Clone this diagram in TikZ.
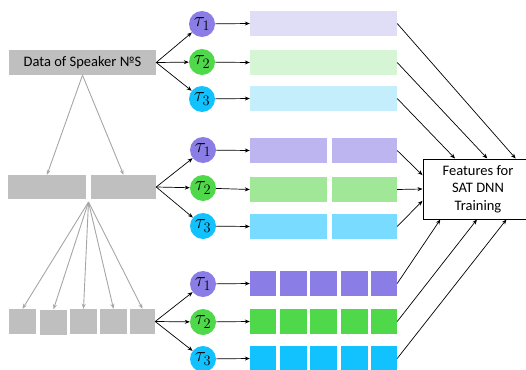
\documentclass[tikz,border=0pt]{standalone}
\usepackage{fontspec}
\setmainfont{Carlito}
\usetikzlibrary{arrows.meta}
\definecolor{boxgray}{HTML}{BFBFBF}
\definecolor{arrgray}{HTML}{A6A6A6}
\definecolor{purA}{HTML}{E0DDF6}\definecolor{purB}{HTML}{BDB5EF}\definecolor{purC}{HTML}{8A7DE6}
\definecolor{grnA}{HTML}{D5F5D5}\definecolor{grnB}{HTML}{A0E898}\definecolor{grnC}{HTML}{4FD84A}
\definecolor{cyaA}{HTML}{C5EEFD}\definecolor{cyaB}{HTML}{79DBFF}\definecolor{cyaC}{HTML}{12C2FF}
\begin{document}
\begin{tikzpicture}[x=1pt,y=-1pt,font=\fontsize{14.5}{17.5}\selectfont,
  gbox/.style={fill=boxgray,inner sep=0,minimum height=25pt},
  tau/.style={circle,inner sep=0,minimum size=26pt,font=\fontsize{20}{20}\selectfont},
  bar/.style={inner sep=0,minimum height=25pt},
  garr/.style={draw=arrgray,line width=0.9pt,-{Stealth[length=5pt,width=4pt]}},
  barr/.style={draw=black,line width=0.7pt,-{Stealth[length=5pt,width=4pt]}}]
\useasboundingbox (0,0) rectangle (526,369);
% speaker data and its splits
\node[gbox,minimum width=147pt] (src) at (82.5,62.5) {Data of Speaker №S};
\node[gbox,minimum width=78pt,minimum height=24pt] (m1) at (47,187) {};
\node[gbox,minimum width=65pt,minimum height=24pt] (m2) at (123.5,187) {};
\node[gbox,minimum width=27pt] (s1) at (22.5,321.5) {};
\node[gbox,minimum width=27pt] (s2) at (53.5,322) {};
\node[gbox,minimum width=27pt] (s3) at (83.5,321.5) {};
\node[gbox,minimum width=27pt] (s4) at (113.5,321.5) {};
\node[gbox,minimum width=25pt] (s5) at (142.5,321.5) {};
\coordinate (split) at (88.5,202);
\draw[garr] (src.south) -- (m1.north);
\draw[garr] (src.south) -- (m2.north);
\foreach \s in {1,...,5} \draw[garr] (split) -- (s\s.north);
% transforms
\node[tau,fill=purC] (t11) at (202,24) {$\tau_1$};
\node[tau,fill=grnC] (t12) at (202,62) {$\tau_2$};
\node[tau,fill=cyaC] (t13) at (202,99) {$\tau_3$};
\node[tau,fill=purC] (t21) at (203,150) {$\tau_1$};
\node[tau,fill=grnC] (t22) at (203,188) {$\tau_2$};
\node[tau,fill=cyaC] (t23) at (203,226) {$\tau_3$};
\node[tau,fill=purC] (t31) at (203,284) {$\tau_1$};
\node[tau,fill=grnC] (t32) at (203,322) {$\tau_2$};
\node[tau,fill=cyaC] (t33) at (203,359) {$\tau_3$};
% transformed features
\node[bar,fill=purA,minimum width=147pt] (b11) at (323.5,23.5) {};
\node[bar,fill=grnA,minimum width=147pt] (b12) at (323.5,62.5) {};
\node[bar,fill=cyaA,minimum width=147pt] (b13) at (323.5,98.5) {};
\foreach \r/\y/\c in {1/150.5/purB,2/189.5/grnB,3/226.5/cyaB}{
  \node[bar,fill=\c,minimum width=77pt] (b2\r a) at (288.5,\y) {};
  \node[bar,fill=\c,minimum width=65pt] (b2\r) at (364.5,\y) {};
}
\foreach \r/\y/\c in {1/283.5/purC,2/321.5/grnC,3/358.5/cyaC}{
  \node[bar,fill=\c,minimum width=26pt] (b3\r a) at (263,\y) {};
  \node[bar,fill=\c,minimum width=27pt] (b3\r b) at (293.5,\y) {};
  \node[bar,fill=\c,minimum width=27pt] (b3\r c) at (323.5,\y) {};
  \node[bar,fill=\c,minimum width=27pt] (b3\r d) at (354.5,\y) {};
  \node[bar,fill=\c,minimum width=26pt] (b3\r) at (384,\y) {};
}
\foreach \r in {1,2,3}{
  \draw[barr] (src.east) -- (t1\r);
  \draw[barr] (m2.east) -- (t2\r);
  \draw[barr] (s5.east) -- (t3\r);
  \draw[barr] (t1\r) -- (b1\r.west);
  \draw[barr] (t2\r) -- (b2\r a.west);
  \draw[barr] (t3\r) -- (b3\r a.west);
}
% training
\node[draw,line width=1pt,minimum width=110pt,minimum height=60pt,align=center,inner sep=0] (feat) at (478,189) {Features for\\SAT DNN\\Training};
\draw[barr] (b11.east) -- (feat.39);
\draw[barr] (b12.east) -- (feat.73);
\draw[barr] (b13.east) -- (feat.127);
\draw[barr] (b21.east) -- (feat.166);
\draw[barr] (b22.east) -- (feat.180);
\draw[barr] (b23.east) -- (feat.192);
\draw[barr] (b31.east) -- (feat.219);
\draw[barr] (b32.east) -- (feat.268);
\draw[barr] (b33.east) -- (feat.313);
\end{tikzpicture}
\end{document}
